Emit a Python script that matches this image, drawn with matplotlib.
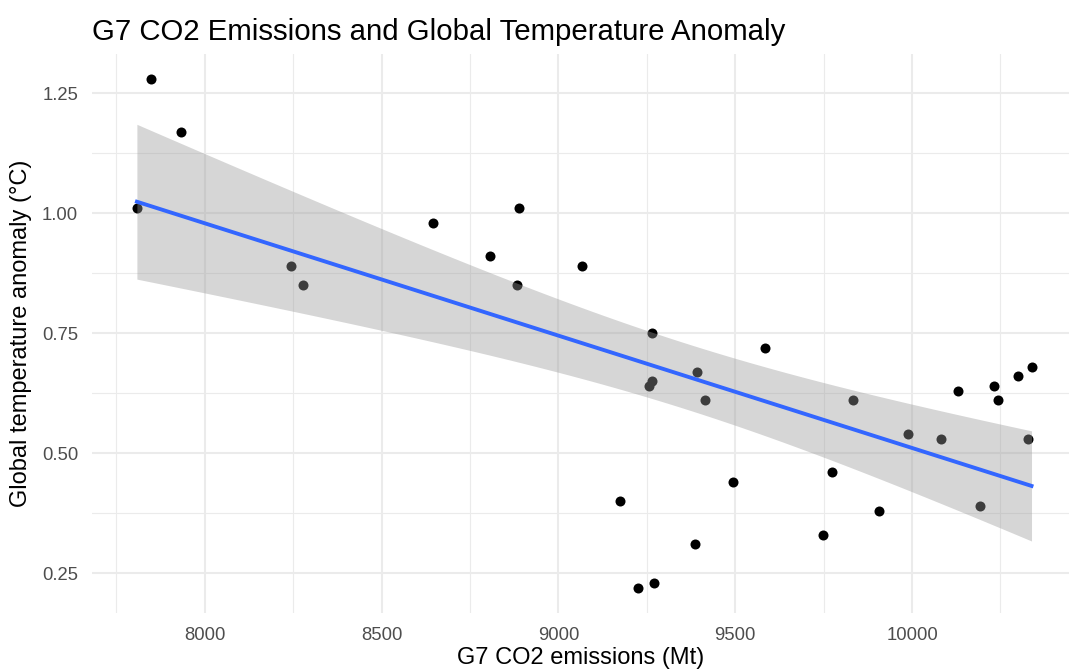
import numpy as np
import matplotlib.pyplot as plt
from matplotlib.ticker import MultipleLocator

# G7 CO2 emissions (Mt) and global temperature anomaly (°C)
emissions = [7808, 7849, 7933, 8245, 8278, 8645, 8807, 8883, 8888, 9067,
             9175, 9226, 9256, 9264, 9266, 9269, 9385, 9391, 9414, 9493,
             9585, 9749, 9773, 9833, 9908, 9990, 10081, 10130, 10193, 10231,
             10244, 10300, 10329, 10338]
anomaly = [1.01, 1.28, 1.17, 0.89, 0.85, 0.98, 0.91, 0.85, 1.01, 0.89,
           0.40, 0.22, 0.64, 0.75, 0.65, 0.23, 0.31, 0.67, 0.61, 0.44,
           0.72, 0.33, 0.46, 0.61, 0.38, 0.54, 0.53, 0.63, 0.39, 0.64,
           0.61, 0.66, 0.53, 0.68]

x_ticks = [8000, 8500, 9000, 9500, 10000]
y_ticks = [0.25, 0.50, 0.75, 1.00, 1.25]

plt.rcParams['font.family'] = ['Liberation Sans', 'DejaVu Sans']

x = np.array(emissions, dtype=float)
y = np.array(anomaly, dtype=float)

# Linear fit with 95% confidence band (like geom_smooth(method = "lm"))
n = len(x)
slope, intercept = np.polyfit(x, y, 1)
resid = y - (slope * x + intercept)
s = np.sqrt(np.sum(resid ** 2) / (n - 2))
t_crit = 2.0369  # t quantile 0.975, df = 32
xs = np.linspace(x.min(), x.max(), 80)
fit = slope * xs + intercept
se = s * np.sqrt(1 / n + (xs - x.mean()) ** 2 / np.sum((x - x.mean()) ** 2))

fig = plt.figure(figsize=(10.69, 6.72), dpi=100)
ax = fig.add_axes([92 / 1069, 1 - 613 / 672, 1 - 92 / 1069, (613 - 53.5) / 672])

ax.scatter(x, y, s=52, color='black', linewidths=0, zorder=3)
ax.fill_between(xs, fit - t_crit * se, fit + t_crit * se, color='#999999', alpha=0.4,
                linewidth=0, zorder=4)
ax.plot(xs, fit, color='#3366FF', linewidth=2.8, zorder=5)

ax.set_xlim(7681, 10444)
ax.set_ylim(0.167, 1.333)
ax.set_xticks(x_ticks)
ax.set_yticks(y_ticks)
ax.set_yticklabels([f'{v:.2f}' for v in y_ticks])
ax.xaxis.set_minor_locator(MultipleLocator(250))
ax.yaxis.set_minor_locator(MultipleLocator(0.125))

# theme_minimal look
ax.grid(True, which='major', color='#EBEBEB', linewidth=1.5, zorder=0)
ax.grid(True, which='minor', color='#EBEBEB', linewidth=0.8, zorder=0)
ax.set_axisbelow(True)
for spine in ax.spines.values():
    spine.set_visible(False)
ax.tick_params(which='both', length=0, labelsize=13.3, labelcolor='#4D4D4D')
ax.tick_params(axis='x', pad=10)
ax.tick_params(axis='y', pad=10)

ax.set_title('G7 CO2 Emissions and Global Temperature Anomaly', fontsize=21.2,
             loc='left', pad=10)
ax.set_xlabel('G7 CO2 emissions (Mt)', fontsize=17, labelpad=2)
ax.set_ylabel('Global temperature anomaly (°C)', fontsize=17, labelpad=7)

fig.savefig('out.png', dpi=100)
